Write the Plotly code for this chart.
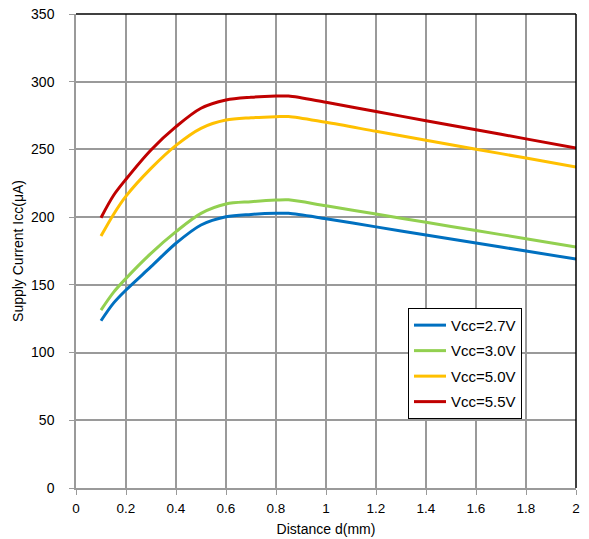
import plotly.graph_objects as go

x = [0.1, 0.15, 0.2, 0.3, 0.4, 0.5, 0.6, 0.7, 0.8, 0.85, 1.0, 1.2, 1.4, 1.6, 1.8, 2.0]
v27 = [123.5, 136.5, 146.2, 163.4, 180.7, 194.2, 200.3, 202, 202.8, 202.8, 198.8, 192.8, 186.8, 180.9, 175, 169]
v30 = [131.4, 144.5, 154.8, 173.3, 189.3, 202.8, 209.7, 211.4, 212.6, 212.8, 208.4, 202.3, 196.2, 190.1, 184.1, 178]
v50 = [186, 202, 215.5, 236, 253, 265.6, 271.7, 273.4, 274.2, 274.3, 270, 263.4, 256.8, 250.2, 243.6, 237]
v55 = [199.6, 216, 228, 249.6, 266.8, 280.4, 286.5, 288.5, 289.4, 289.4, 284.8, 278, 271.2, 264.5, 257.8, 251]
names = ["Vcc=2.7V", "Vcc=3.0V", "Vcc=5.0V", "Vcc=5.5V"]
colors = ["#0070C0", "#92D050", "#FFC000", "#C00000"]
x_ticks = [0, 0.2, 0.4, 0.6, 0.8, 1, 1.2, 1.4, 1.6, 1.8, 2]
x_tick_labels = ["0", "0.2", "0.4", "0.6", "0.8", "1", "1.2", "1.4", "1.6", "1.8", "2"]
y_ticks = [0, 50, 100, 150, 200, 250, 300, 350]

fig = go.Figure()
for i, (name, ys, c) in enumerate(zip(names, [v27, v30, v50, v55], colors)):
    fig.add_trace(go.Scatter(x=x, y=ys, name=name, mode="lines",
                             line=dict(color=c, width=3, shape="spline", smoothing=0.9),
                             legendgroup=str(i)))

grid = "#9a9a9a"
fig.update_layout(
    width=589, height=539,
    margin=dict(l=76, r=13, t=14, b=51),
    paper_bgcolor="white", plot_bgcolor="white",
    font=dict(family="Liberation Sans, Arial, sans-serif", size=14, color="#000"),
    showlegend=True,
    legend=dict(x=0.664, y=0.38, xanchor="left", yanchor="top",
                bordercolor="#000", borderwidth=1, bgcolor="white",
                font=dict(size=15), tracegroupgap=3, itemwidth=32),
    xaxis=dict(range=[0, 2], tickvals=x_ticks, ticktext=x_tick_labels, automargin=False,
               showgrid=True, gridcolor=grid, gridwidth=1.5,
               ticks="outside", ticklen=5, tickcolor=grid, ticklabelstandoff=2,
               showline=True, linecolor=grid, linewidth=1.5, tickfont=dict(size=13.5),
               zeroline=False, title=dict(text="Distance d(mm)", standoff=9, font=dict(size=14))),
    yaxis=dict(range=[0, 350], tickvals=y_ticks, automargin=False,
               showgrid=True, gridcolor=grid, gridwidth=1.5,
               ticks="outside", ticklen=5, tickcolor=grid, ticklabelstandoff=12,
               showline=True, linecolor=grid, linewidth=1.5, tickfont=dict(size=14),
               zeroline=False, title=dict(text="Supply Current Icc(μA)", standoff=4, font=dict(size=14))),
)
fig.add_shape(type="line", xref="paper", yref="paper", x0=0, x1=1, y0=1, y1=1,
              line=dict(color="#000", width=1.5))
fig.add_shape(type="line", xref="paper", yref="paper", x0=1, x1=1, y0=0, y1=1,
              line=dict(color="#000", width=1.5))
fig.write_html("out.html")
